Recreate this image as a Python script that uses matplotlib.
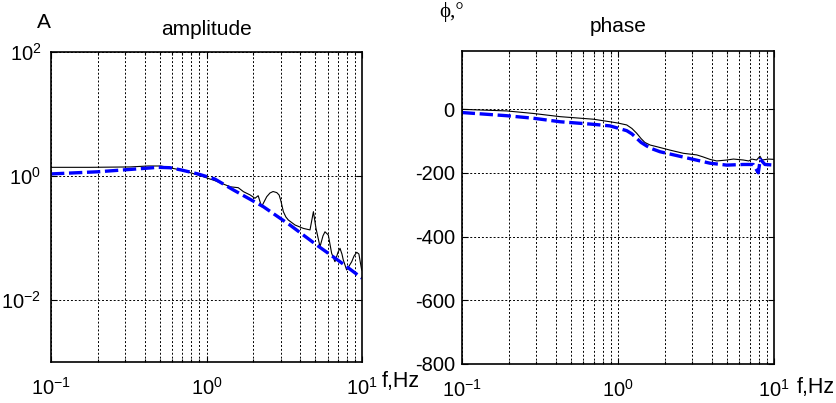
import matplotlib.pyplot as plt
import matplotlib.ticker as mticker
import numpy as np

plt.rcParams['font.family'] = ['Liberation Sans', 'DejaVu Sans']
plt.rcParams['mathtext.fontset'] = 'custom'
plt.rcParams['mathtext.rm'] = 'Liberation Sans'
plt.rcParams['mathtext.it'] = 'Liberation Sans:italic'

# Amplitude, measured (black) and model (blue dashed)
amp_meas_f = [0.1, 0.178, 0.322, 0.421, 0.509, 0.685, 0.881, 1.135, 1.42, 1.60,
              1.73, 1.91, 2.05, 2.15, 2.26, 2.44, 2.56, 2.68, 2.83, 2.93,
              3.01, 3.12, 3.24, 3.36, 3.71, 4.19, 4.63, 4.87, 5.06, 5.37,
              5.61, 5.78, 6.07, 6.38, 6.70, 7.02, 7.22, 7.43, 7.58, 7.97,
              8.26, 8.59, 8.89, 9.25, 9.55, 9.95]
amp_meas = [1.38, 1.38, 1.40, 1.45, 1.45, 1.25, 1.04, 0.84, 0.67, 0.648,
            0.558, 0.494, 0.437, 0.481, 0.320, 0.464, 0.532, 0.562, 0.54, 0.494,
            0.395, 0.266, 0.218, 0.195, 0.162, 0.143, 0.135, 0.266, 0.143, 0.0724,
            0.108, 0.126, 0.112, 0.0566, 0.0415, 0.0594, 0.0682, 0.0552, 0.0442, 0.0305,
            0.0353, 0.0415, 0.0513, 0.0588, 0.0552, 0.0305]
amp_model_f = [0.1, 0.2, 0.328, 0.403, 0.488, 0.582, 0.689, 0.881, 1.13, 1.49,
               2.32, 3.44, 5.11, 7.22, 9.71, 10.0]
amp_model = [1.08, 1.17, 1.28, 1.33, 1.38, 1.36, 1.25, 1.08, 0.895, 0.595,
             0.320, 0.162, 0.0771, 0.0415, 0.0238, 0.0225]

# Phase, measured (black) and model (blue dashed)
ph_meas_f = [0.1, 0.194, 0.288, 0.427, 0.697, 0.891, 1.0, 1.14, 1.23, 1.32,
             1.41, 1.49, 1.61, 1.77, 2.16, 2.63, 3.2, 3.5, 3.89, 4.3,
             4.98, 5.5, 6.36, 6.9, 7.2, 7.74, 8.13, 8.4, 9.2, 10.0]
ph_meas = [-1, -6, -14, -24, -32, -40, -44, -50, -61, -76,
           -93, -105, -113, -118, -129, -139, -144, -150, -158, -163,
           -160, -157, -160, -163, -157, -160, -148, -160, -157, -158]
ph_model_f = [0.1, 0.194, 0.288, 0.427, 0.697, 0.891, 1.0, 1.14, 1.23, 1.32,
              1.41, 1.53, 1.66, 1.86, 2.38, 3.04, 3.89, 4.98, 6.36, 7.37,
              7.93, 8.17, 8.75, 10.0]
ph_model = [-11, -21, -29, -40, -48, -53, -60, -68, -78, -92,
            -105, -116, -125, -134, -146, -158, -170, -176, -174, -174,
            -200, -158, -174, -176]

W, H = 837, 403
fig = plt.figure(figsize=(W / 100, H / 100), dpi=100)
ax1 = fig.add_axes([51 / W, 1 - 362 / H, 311 / W, 310 / H])
ax2 = fig.add_axes([461.7 / W, 1 - 364 / H, 312.3 / W, 313 / H])

blue = '#0000ff'
dash = (0, (4, 1.4))
grid_ls = (0, (2, 2))
fs = 14.5

for ax in (ax1, ax2):
    ax.set_xscale('log')
    ax.set_xlim(0.1, 10)
    ax.set_xticks([0.1, 1, 10])
    ax.set_xticklabels([r'$\mathregular{10^{-1}}$', r'$\mathregular{10^{0}}$',
                        r'$\mathregular{10^{1}}$'])
    ax.xaxis.set_minor_locator(mticker.LogLocator(base=10, subs=np.arange(2, 10)))
    ax.xaxis.set_minor_formatter(mticker.NullFormatter())
    ax.grid(True, which='major', color='black', linestyle=grid_ls, linewidth=0.7)
    ax.grid(True, which='minor', axis='x', color='black', linestyle=grid_ls, linewidth=0.7)
    ax.tick_params(which='both', direction='in', top=True, right=True,
                   labelsize=fs, width=0.8)
    ax.tick_params(which='major', length=4)
    ax.tick_params(which='minor', length=2)
    ax.tick_params(axis='x', pad=11)
    for s in ax.spines.values():
        s.set_linewidth(1.2)

ax1.loglog(amp_meas_f, amp_meas, color='black', linewidth=0.8)
ax1.loglog(amp_model_f, amp_model, color=blue, linewidth=2.4, linestyle=dash)
ax1.set_ylim(1e-3, 1e2)
ax1.set_yticks([1e-2, 1, 1e2])
ax1.set_yticklabels([r'$\mathregular{10^{-2}}$', r'$\mathregular{10^{0}}$',
                     r'$\mathregular{10^{2}}$'])
ax1.yaxis.set_minor_locator(mticker.NullLocator())
ax1.tick_params(axis='y', pad=7)
ax1.set_title('amplitude', fontsize=15, pad=12)

ax2.semilogx(ph_meas_f, ph_meas, color='black', linewidth=0.8)
ax2.semilogx(ph_model_f, ph_model, color=blue, linewidth=2.4, linestyle=dash)
ax2.set_ylim(-800, 182)
ax2.set_yticks([-800, -600, -400, -200, 0])
ax2.set_yticklabels(['-800', '-600', '-400', '-200', '0'])
ax2.tick_params(axis='y', pad=5)
ax2.set_title('phase', fontsize=15, pad=14)

fig.text(44 / W, 1 - 22 / H, 'A', fontsize=15, ha='center', va='center')
fig.text(452 / W, 1 - 12 / H, 'ϕ,°', fontsize=15, ha='center', va='center',
         family=['Liberation Serif', 'DejaVu Serif'])
fig.text(382 / W, 1 - 382 / H, 'f,Hz', fontsize=15.5, ha='left', va='center')
fig.text(797 / W, 1 - 388 / H, 'f,Hz', fontsize=15.5, ha='left', va='center')

fig.savefig('out.png', dpi=100)
